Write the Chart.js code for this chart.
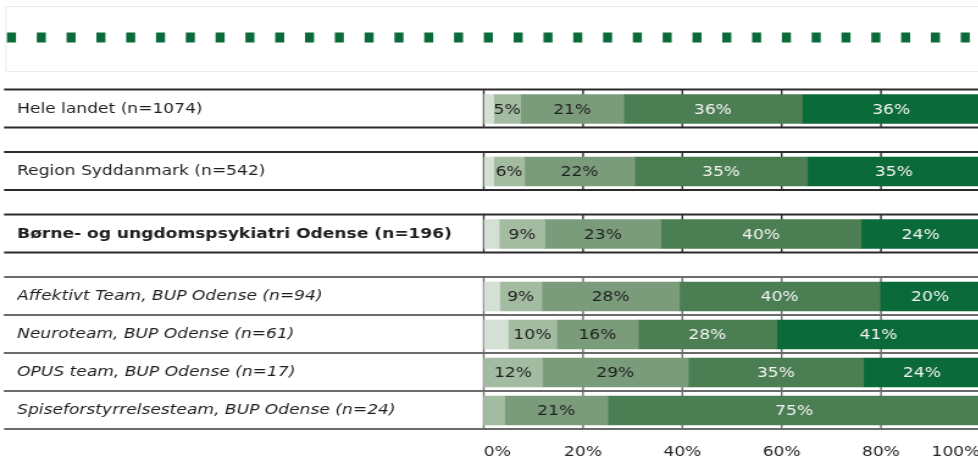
<!DOCTYPE html>
<html>
<head>
<meta charset="utf-8">
<script src="https://cdn.jsdelivr.net/npm/chart.js@4/dist/chart.umd.min.js"></script>
<style>
    html, body { margin: 0; padding: 0; background: #fff; overflow: hidden; }
    /* the reference is stretched sideways, so the chart is drawn narrow and widened */
    .chart-wrap { width: 806px; height: 460px; transform: scaleX(1.22); transform-origin: 0 0; }
</style>
</head>
<body>
<div class="chart-wrap"><canvas id="bupChart"></canvas></div>
<script>
const rowLabels = [
    'Hele landet (n=1074)',
    'Region Syddanmark (n=542)',
    'Børne- og ungdomspsykiatri Odense (n=196)',
    'Affektivt Team, BUP Odense (n=94)',
    'Neuroteam, BUP Odense (n=61)',
    'OPUS team, BUP Odense (n=17)',
    'Spiseforstyrrelsesteam, BUP Odense (n=24)'
];
// which block each row belongs to (blocks are separated by a gap)
const rowGroup = [0, 1, 2, 3, 3, 3, 3];

const seriesNames = ['Kategori 1', 'Kategori 2', 'Kategori 3', 'Kategori 4', 'Kategori 5'];
const series1 = [2.0, 2.0, 3.1, 3.2, 4.9, 0, 0];
const series2 = [5.4, 6.2, 9.2, 8.5, 9.8, 11.8, 4.2];
const series3 = [20.8, 22.2, 23.4, 27.7, 16.4, 29.4, 20.8];
const series4 = [35.9, 34.8, 40.3, 40.4, 27.9, 35.3, 75.0];
const series5 = [35.9, 34.8, 24.0, 20.2, 41.0, 23.5, 0];

const xTicks = [0, 20, 40, 60, 80, 100];

const seriesColors = ['#d4e0d3', '#a3bca1', '#7b9c7b', '#4b7f53', '#0b6a3a'];
const labelColors = ['#1f1f1f', '#1f1f1f', '#1f1f1f', '#f4f4f4', '#f4f4f4'];

const GROUP_GAP = 0.645;
const rowPos = rowGroup.map((g, i) => i + g * GROUP_GAP);

document.addEventListener('DOMContentLoaded', function() {

    Chart.defaults.font.family = "'DejaVu Sans', Verdana, sans-serif";
    Chart.defaults.font.size = 14;
    Chart.defaults.color = '#262626';

    const allSeries = [series1, series2, series3, series4, series5];

    const datasets = allSeries.map((vals, j) => ({
        label: seriesNames[j],
        data: vals.map((v, i) => ({ x: v, y: rowPos[i] })),
        backgroundColor: seriesColors[j],
        borderWidth: 0,
        barThickness: 29
    }));

    const rowBoxes = {
        id: 'rowBoxes',
        beforeDatasetsDraw(chart) {
            const { ctx } = chart;
            const xs = chart.scales.x, ys = chart.scales.y;
            ctx.save();

            // dotted strip at the top
            ctx.strokeStyle = '#ececec';
            ctx.lineWidth = 1;
            ctx.strokeRect(4.9, 6.5, chart.width, 65);
            ctx.fillStyle = '#0b6a3a';
            for (let px = 5.7; px < chart.width; px += 24.43) {
                ctx.fillRect(px, 32.5, 7.4, 10);
            }

            rowLabels.forEach((_, i) => {
                const cy = ys.getPixelForValue(rowPos[i]);
                const top = cy - 19.5, bottom = cy + 18.5;
                ctx.strokeStyle = rowGroup[i] < 3 ? '#2b2b2b' : '#6b6b6b';

                ctx.lineWidth = 1.4;
                ctx.beginPath();
                xTicks.forEach(v => {
                    const px = xs.getPixelForValue(v);
                    ctx.moveTo(px, top);
                    ctx.lineTo(px, bottom);
                });
                ctx.stroke();

                ctx.lineWidth = 2;
                ctx.beginPath();
                ctx.moveTo(3.3, top); ctx.lineTo(chart.width, top);
                ctx.moveTo(3.3, bottom); ctx.lineTo(chart.width, bottom);
                ctx.stroke();
            });
            ctx.restore();
        },
        afterDatasetsDraw(chart) {
            const ctx = chart.ctx;
            ctx.save();
            ctx.font = '14px ' + Chart.defaults.font.family;
            ctx.textAlign = 'center';
            ctx.textBaseline = 'middle';
            chart.data.datasets.forEach((ds, j) => {
                chart.getDatasetMeta(j).data.forEach((bar, i) => {
                    const v = ds.data[i].x;
                    if (v < 5) return;
                    const p = bar.getProps(['x', 'y', 'base'], true);
                    ctx.fillStyle = labelColors[j];
                    ctx.fillText(Math.round(v) + '%', (p.x + p.base) / 2, p.y + 1);
                });
            });
            ctx.restore();
        }
    };

    new Chart(document.getElementById('bupChart'), {
        type: 'bar',
        data: { datasets: datasets },
        options: {
            indexAxis: 'y',
            responsive: true,
            maintainAspectRatio: false,
            animation: false,
            layout: { padding: { top: 85, left: 14, right: 2.5, bottom: 0 } },
            plugins: {
                legend: { display: false },
                tooltip: { enabled: false }
            },
            scales: {
                x: {
                    type: 'linear',
                    stacked: true,
                    min: 0,
                    max: 100,
                    position: 'bottom',
                    grid: { display: false, drawTicks: false },
                    border: { display: false },
                    afterBuildTicks: (scale) => { scale.ticks = xTicks.map(v => ({ value: v })); },
                    afterFit: (scale) => { scale.height = 28; scale.paddingLeft = 0; scale.paddingRight = 0; },
                    ticks: {
                        align: 'inner',
                        padding: 12,
                        color: '#262626',
                        callback: (v) => v + '%'
                    }
                },
                y: {
                    type: 'linear',
                    stacked: true,
                    reverse: true,
                    offset: false,
                    min: -0.632,
                    max: 8.5,
                    grid: { display: false, drawTicks: false },
                    border: { display: false },
                    afterBuildTicks: (scale) => { scale.ticks = rowPos.map(v => ({ value: v })); },
                    afterFit: (scale) => { scale.width = 382.5; scale.paddingTop = 0; scale.paddingBottom = 0; },
                    ticks: {
                        autoSkip: false,
                        crossAlign: 'far',
                        padding: 0,
                        color: '#1f1f1f',
                        font: (c) => ({
                            size: 14,
                            weight: c.index === 2 ? 'bold' : 'normal',
                            style: c.index > 2 ? 'italic' : 'normal'
                        }),
                        callback: (v, i) => rowLabels[i]
                    }
                }
            }
        },
        plugins: [rowBoxes]
    });
});
</script>
</body>
</html>
